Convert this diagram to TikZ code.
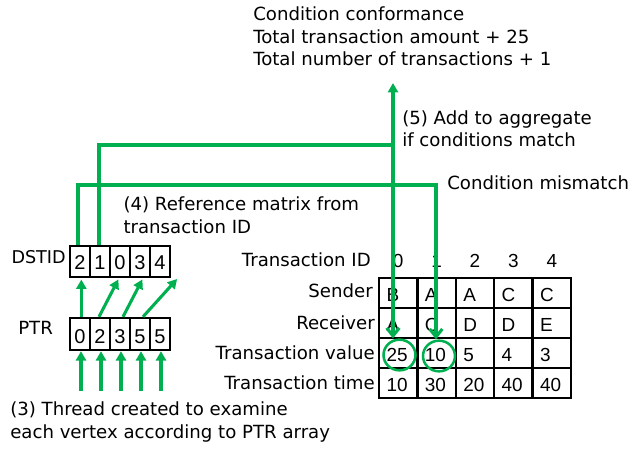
\documentclass[tikz,border=0pt]{standalone}
\usepackage{fontspec}
\setmainfont{DejaVu Sans}
\newfontfamily\cellfont{Liberation Sans}
\usetikzlibrary{arrows.meta,shapes.geometric,calc}
\definecolor{gr}{HTML}{00B050}
\begin{document}
\begin{tikzpicture}[x=0.75pt,y=-0.75pt,
  lbl/.style={inner sep=0pt, font=\fontsize{13.6pt}{16.9pt}\selectfont, align=left},
  acell/.style={draw, line width=1.8pt, minimum width=15pt, inner sep=0pt,
    font=\cellfont\fontsize{15pt}{16pt}\selectfont, text depth=0pt},
  dcell/.style={acell, minimum height=23.25pt, text height=12.75pt},
  pcell/.style={acell, minimum height=24pt, text height=15pt},
  tcell/.style={draw, line width=1.8pt, minimum height=22.5pt, text width=17.55pt,
    inner xsep=5.625pt, inner ysep=0pt, align=left, text height=12.75pt, text depth=0pt,
    font=\cellfont\fontsize{14.2pt}{15pt}\selectfont},
  hnum/.style={inner sep=0pt, font=\cellfont\fontsize{14.2pt}{15pt}\selectfont},
  gline/.style={draw=gr, line width=2.3pt},
  garr/.style={gline, -{Triangle[length=7pt,width=7.5pt]}},
  barb/.style={gline, -{Straight Barb[length=6pt,width=9.5pt]}},
  ell/.style={ellipse, draw=gr, line width=1.9pt, minimum width=24pt, minimum height=23pt, inner sep=0pt}
]
\useasboundingbox (0,0) rectangle (629,449);

% texts
\node[lbl, anchor=base west] (res) at (253,65.7) {Condition conformance\\Total transaction amount + 25\\Total number of transactions + 1};
\node[lbl, anchor=base west] (step5) at (402,146.7) {(5) Add to aggregate\\if conditions match};
\node[lbl, anchor=base west] (mis) at (447,190) {Condition mismatch};
\node[lbl, anchor=base west] (step4) at (123.3,233.3) {(4) Reference matrix from\\transaction ID};
\node[lbl, anchor=base west] (step3) at (10,438.3) {(3) Thread created to examine\\each vertex according to PTR array};
\node[lbl, anchor=base east, font=\fontsize{13.2pt}{16pt}\selectfont] (ldst) at (66,264) {DSTID};
\node[lbl, anchor=base west] (lptr) at (18,334.3) {PTR};

% arrays
\foreach \v [count=\i from 0] in {2,1,0,3,4}
  \node[dcell] (d\i) at ({80+20*\i},261.5) {\v};
\foreach \v [count=\i from 0] in {0,2,3,5,5}
  \node[pcell] (p\i) at ({80+20*\i},334) {\v};

% table
\node[lbl, anchor=base east] (lid) at (371,266.7) {Transaction ID};
\node[lbl, anchor=base east] (lsnd) at (373,297.3) {Sender};
\node[lbl, anchor=base east] (lrcv) at (375,329.3) {Receiver};
\node[lbl, anchor=base east] (lval) at (375,359.3) {Transaction value};
\node[lbl, anchor=base east] (ltim) at (375,389) {Transaction time};
\foreach \c in {0,...,4}
  \node[hnum, anchor=base] (h\c) at ({398.2+38.4*\c},268) {\c};
\foreach \vals [count=\r] in {{B,A,A,C,C},{A,C,D,D,E},{25,10,5,4,3},{10,30,20,40,40}}
  \foreach \v [count=\c from 0] in \vals
    \node[tcell] (t\r\c) at ({398.2+38.4*\c},{263+30*\r}) {\v};

% ellipses
\node[ell] (e25) at (399.5,355) {};
\node[ell] (e10) at (439,356) {};

% PTR -> DSTID arrows
\coordinate (d5) at (178,278);
\draw[garr, shorten >=1pt] ([xshift=1pt]p0.north) -- ([xshift=1pt]d0.south);
\draw[garr, shorten >=1pt] ([xshift=-0.75pt]p1.north) -- ([xshift=-0.75pt]d2.south);
\draw[garr, shorten >=1pt] ([xshift=2.25pt]p2.north) -- ([xshift=2.25pt]d3.south);
\draw[garr, shorten >=1pt] ([xshift=2.25pt]p3.north) -- (d5);

% thread arrows
\foreach \i in {0,...,4} {
  \coordinate (b\i) at ($(p\i.south)+(1,40)$);
  \draw[garr] (b\i) -- (b\i |- p\i.south);
}

% matrix reference lines
\coordinate (jA) at (393,145);
\coordinate (jB) at (436,185);
\coordinate (top) at (393,83);
\draw[barb] ([xshift=-0.75pt]d1.north) |- (jA) -- (jA |- e25.north);
\draw[garr] (jA) -- (top);
\draw[barb] ([xshift=-1.5pt]d0.north) |- (jB) -- (jB |- e10.north);
\end{tikzpicture}
\end{document}
